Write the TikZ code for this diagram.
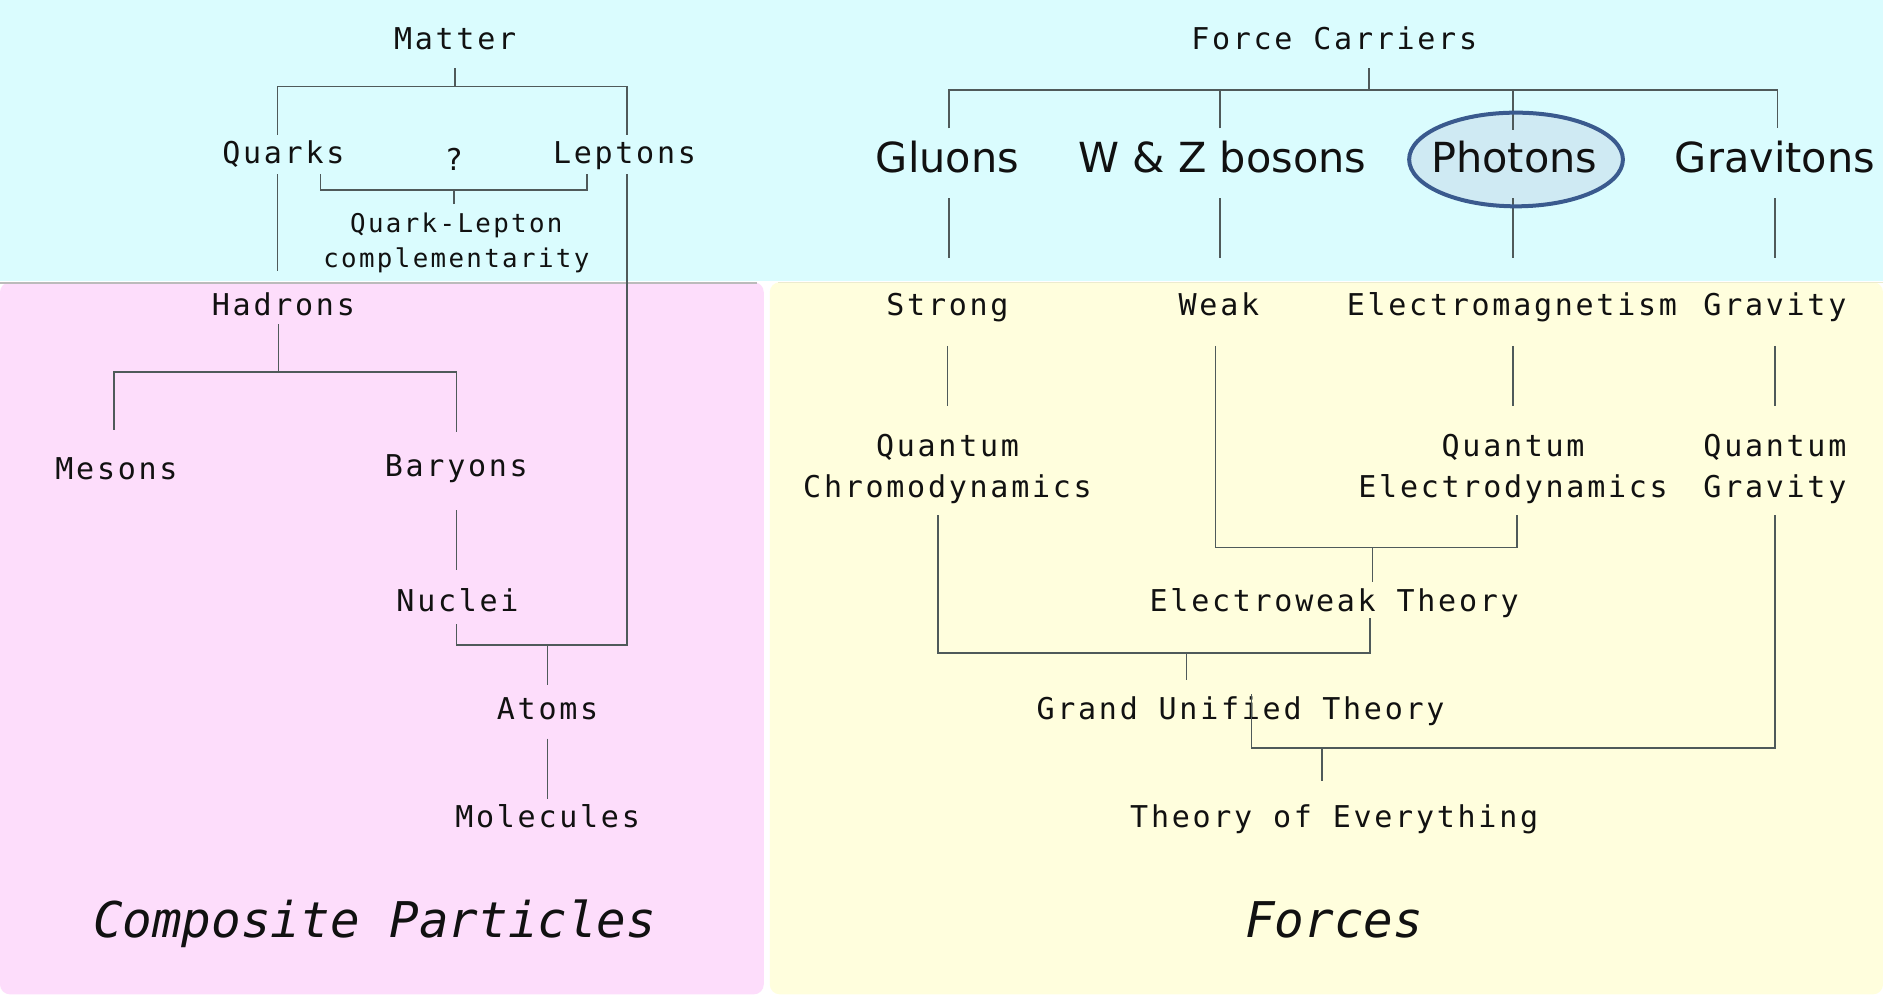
\documentclass[tikz,border=0pt]{standalone}
\usepackage{fontspec}
\usetikzlibrary{calc}
\newfontfamily\lblfont[LetterSpace=9.1]{DejaVu Sans Mono}
\newfontfamily\topfont{DejaVu Sans}
\newfontfamily\capfont{DejaVu Sans Mono}
\definecolor{cyanbg}{HTML}{DAFCFE}
\definecolor{pinkbg}{HTML}{FDDDFB}
\definecolor{yellowbg}{HTML}{FFFEDD}
\definecolor{linec}{HTML}{4F5A5A}
\definecolor{ellb}{HTML}{3A5A8E}
\definecolor{ellf}{HTML}{CFEAF3}
\definecolor{txt}{HTML}{111111}
\definecolor{shadow}{HTML}{BBBBBB}
\begin{document}
\begin{tikzpicture}[x=0.6pt,y=-0.6pt,
  lbl/.style={font=\lblfont\fontsize{15}{20.4}\selectfont, text=txt, inner sep=0pt, align=center, text height=10.9pt, text depth=0pt},
  lbltwo/.style={font=\lblfont\fontsize{15}{20.4}\selectfont, text=txt, inner sep=0pt, align=center},
  smalllbl/.style={font=\lblfont\fontsize{12.9}{17.4}\selectfont, text=txt, inner sep=0pt, align=center},
  toplbl/.style={font=\topfont\fontsize{20.7}{24}\selectfont, text=txt, inner sep=0pt, text height=15.1pt, text depth=0pt},
  caplbl/.style={font=\capfont\itshape\fontsize{24.6}{28}\selectfont, text=txt, inner sep=0pt, text height=17.9pt, text depth=0pt},
  conn/.style={draw=linec, line width=0.8pt},
  band/.style={rounded corners=5pt}
]
\useasboundingbox (0,0) rectangle (1568,828);
% backgrounds
\fill[white] (0,0) rectangle (1568,828);
\fill[cyanbg] (0,0) rectangle (1568,234);
\fill[pinkbg, band] (0,235) rectangle (636,828);
\fill[yellowbg, band] (641,235) rectangle (1568,828);
\draw[shadow, line width=1.2pt] (0,235.5) -- (630,235.5);
\draw[yellowbg!85!gray, line width=0.6pt] (648,235.5) -- (1568,235.5);
% highlight fill
\fill[ellf] (1262.4,132.8) ellipse [x radius=53.4pt, y radius=23.4pt];

% ---- left tree nodes
\node[lbl] (matter) at (379,32) {Matter};
\node[lbl] (quarks) at (236,127) {Quarks};
\node[lbl] (qmark) at (378,133) {?};
\node[lbl] (leptons) at (520,127) {Leptons};
\node[smalllbl] (qlc) at (380,202.5) {Quark-Lepton\\complementarity};
\node[lbl] (hadrons) at (236,254) {Hadrons};
\node[lbl] (mesons) at (97,390) {Mesons};
\node[lbl] (baryons) at (380,388) {Baryons};
\node[lbl] (nuclei) at (381,500) {Nuclei};
\node[lbl] (atoms) at (456,590) {Atoms};
\node[lbl] (molecules) at (456,680) {Molecules};
\node[caplbl] (comp) at (312,766) {Composite Particles};

% ---- right tree nodes
\node[lbl] (fc) at (1111,32) {Force Carriers};
\node[toplbl] (gluons) at (789,131) {Gluons};
\node[toplbl] (wz) at (1018,131) {W \& Z bosons};
\node[toplbl] (photons) at (1261,131) {Photons};
\node[toplbl] (gravitons) at (1478,131) {Gravitons};
\node[lbl] (strong) at (789,254) {Strong};
\node[lbl] (weak) at (1015,254) {Weak};
\node[lbl] (em) at (1259,254) {Electromagnetism};
\node[lbl] (gravity) at (1478,254) {Gravity};
\node[lbltwo] (qcd) at (789,390.5) {Quantum\\Chromodynamics};
\node[lbltwo] (qed) at (1260,390.5) {Quantum\\Electrodynamics};
\node[lbltwo] (qg) at (1478,390.5) {Quantum\\Gravity};
\node[lbl] (ew) at (1111,500) {Electroweak Theory};
\node[lbl] (gut) at (1033,590) {Grand Unified Theory};
\node[lbl] (toe) at (1111,680) {Theory of Everything};
\node[caplbl] (forces) at (1111,766) {Forces};

% ---- left connectors
\coordinate (mbar) at (379,72);
\draw[conn] ($(matter)+(0,25)$) -- (mbar);
\draw[conn] ($(quarks)+(-5,-15)$) |- (mbar) -| ($(leptons)+(2,-15)$);
\draw[conn] ($(quarks)+(31,18)$) -- ++(0,13) -| ($(leptons)+(-31,18)$);
\draw[conn] ($(qlc)+(-2,-32.5)$) -- ++(0,-12);
\draw[conn] ($(quarks)+(-5,18)$) -- ($(hadrons)+(-5,-28)$);
\draw[conn] ($(leptons)+(2,18)$) |- ($(nuclei)+(-1,37)$) -- ($(nuclei)+(-1,20)$);
\draw[conn] ($(atoms)+(0,-53)$) -- ($(atoms)+(0,-20)$);
\coordinate (hbar) at (232,310);
\draw[conn] ($(hadrons)+(-4,16)$) -- (hbar);
\draw[conn] ($(mesons)+(-2,-32)$) |- (hbar) -| ($(baryons)+(0,-28)$);
\draw[conn] ($(baryons)+(0,37)$) -- ($(nuclei)+(-1,-25)$);
\draw[conn] ($(atoms)+(0,25)$) -- ($(molecules)+(0,-15)$);

% ---- right connectors
\coordinate (fbar) at (1140,75);
\draw[conn] ($(fc)+(29,25)$) -- (fbar);
\draw[conn] ($(gluons)+(1,-24)$) |- (fbar) -| ($(gravitons)+(2,-24)$);
\draw[conn] ($(wz)+(-2,-24)$) -- ++(0,-32);
\draw[conn] ($(photons)+(-1,-23)$) -- ++(0,-33);
\draw[conn] ($(gluons)+(1,34)$) -- ($(strong)+(1,-39)$);
\draw[conn] ($(wz)+(-2,34)$) -- ($(weak)+(1,-39)$);
\draw[conn] ($(photons)+(-1,34)$) -- ($(em)+(1,-39)$);
\draw[conn] ($(gravitons)+(0,34)$) -- ($(gravity)+(0,-39)$);
\draw[conn] ($(strong)+(0,34)$) -- ($(qcd)+(0,-52.5)$);
\draw[conn] ($(em)+(1,34)$) -- ($(qed)+(0,-52.5)$);
\draw[conn] ($(gravity)+(0,34)$) -- ($(qg)+(0,-52.5)$);
\draw[conn] ($(weak)+(-3,34)$) |- ($(qed)+(3,65.5)$) -- ($(qed)+(3,38.5)$);
\draw[conn] ($(ew)+(32,-44)$) -- ($(ew)+(32,-15)$);
\draw[conn] ($(qcd)+(-8,38.5)$) |- ($(ew)+(30,44)$) -- ($(ew)+(30,15)$);
\draw[conn] ($(gut)+(-45,-46)$) -- ($(gut)+(-45,-24)$);
\draw[conn] ($(qg)+(0,38.5)$) |- ($(gut)+(9,33)$) -- ($(gut)+(9,-12)$);
\draw[conn] ($(toe)+(-10,-57)$) -- ($(toe)+(-10,-30)$);

% highlight border
\draw[ellb, line width=2pt] ($(photons)+(1.4,1.8)$) ellipse [x radius=53.4pt, y radius=23.4pt];
\end{tikzpicture}
\end{document}
